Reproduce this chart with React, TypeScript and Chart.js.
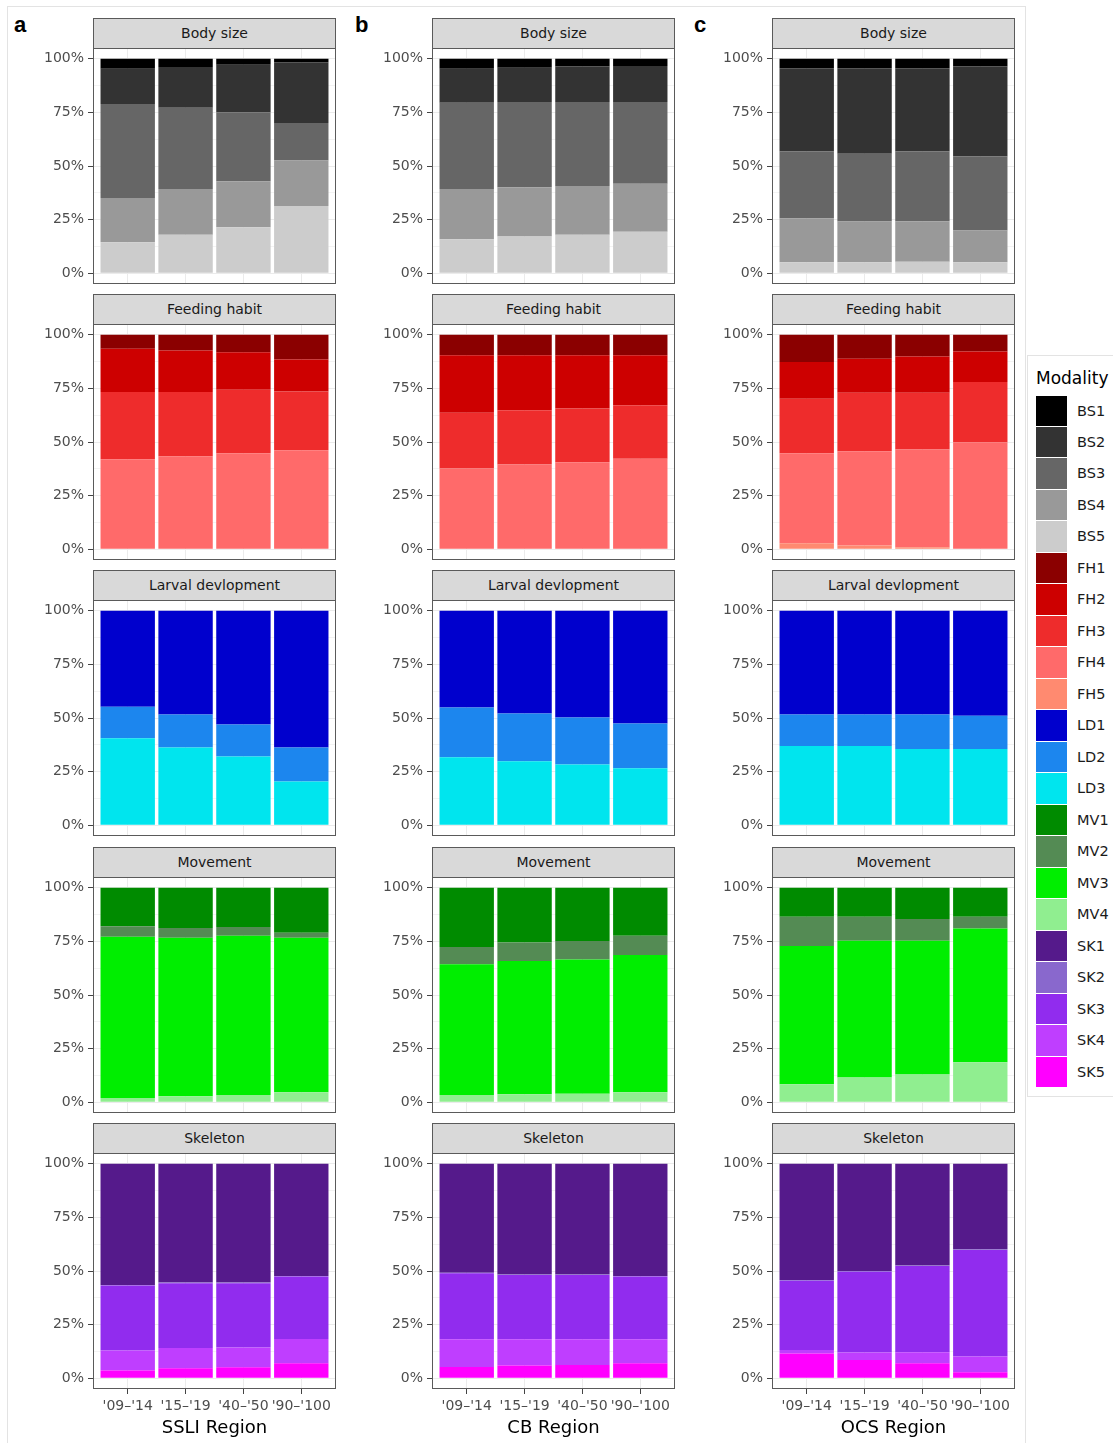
import React, { useEffect, useRef } from "react";
import { Chart, registerables } from "chart.js";

Chart.register(...registerables);

// ---------- categories / labels ----------
const periods = ["'09\u2013'14", "'15\u2013'19", "'40\u2013'50", "'90\u2013'100"];
const regions = ["SSLI Region", "CB Region", "OCS Region"];
const panelLetters = ["a", "b", "c"];
const traits = ["Body size", "Feeding habit", "Larval devlopment", "Movement", "Skeleton"];
const yMajorTicks = [0, 0.25, 0.5, 0.75, 1];
const yMinorTicks = [0.125, 0.375, 0.625, 0.875];

// ---------- modalities & colours ----------
const bodySizeMods = ["BS1", "BS2", "BS3", "BS4", "BS5"];
const bodySizeColors = ["#000000", "#333333", "#666666", "#999999", "#CCCCCC"];
const feedingMods = ["FH1", "FH2", "FH3", "FH4", "FH5"];
const feedingColors = ["#8B0000", "#CD0000", "#EE2C2C", "#FF6A6A", "#FF8A70"];
const larvalMods = ["LD1", "LD2", "LD3"];
const larvalColors = ["#0000CD", "#1C86EE", "#00E5EE"];
const movementMods = ["MV1", "MV2", "MV3", "MV4"];
const movementColors = ["#008B00", "#548B54", "#00EE00", "#90EE90"];
const skeletonMods = ["SK1", "SK2", "SK3", "SK4", "SK5"];
const skeletonColors = ["#551A8B", "#8968CD", "#912CEE", "#BF3EFF", "#FF00FF"];

// ---------- values (rows = modality, columns = period) ----------
const bodySizeSSLI = [
  [0.047, 0.039, 0.028, 0.017],
  [0.164, 0.19, 0.221, 0.283],
  [0.438, 0.378, 0.322, 0.174],
  [0.206, 0.213, 0.214, 0.213],
  [0.145, 0.18, 0.215, 0.313],
];
const bodySizeCB = [
  [0.047, 0.042, 0.036, 0.034],
  [0.158, 0.16, 0.166, 0.168],
  [0.402, 0.397, 0.391, 0.381],
  [0.234, 0.23, 0.227, 0.223],
  [0.159, 0.171, 0.18, 0.194],
];
const bodySizeOCS = [
  [0.044, 0.044, 0.044, 0.036],
  [0.388, 0.399, 0.388, 0.42],
  [0.311, 0.316, 0.325, 0.345],
  [0.206, 0.19, 0.189, 0.148],
  [0.051, 0.051, 0.054, 0.051],
];
const feedingSSLI = [
  [0.065, 0.073, 0.082, 0.115],
  [0.202, 0.194, 0.174, 0.15],
  [0.313, 0.299, 0.297, 0.273],
  [0.418, 0.432, 0.445, 0.46],
  [0.002, 0.002, 0.002, 0.002],
];
const feedingCB = [
  [0.096, 0.096, 0.096, 0.096],
  [0.268, 0.256, 0.248, 0.233],
  [0.259, 0.253, 0.25, 0.249],
  [0.375, 0.393, 0.404, 0.42],
  [0.002, 0.002, 0.002, 0.002],
];
const feedingOCS = [
  [0.127, 0.112, 0.101, 0.078],
  [0.171, 0.159, 0.17, 0.142],
  [0.255, 0.272, 0.264, 0.281],
  [0.419, 0.439, 0.455, 0.496],
  [0.028, 0.018, 0.01, 0.003],
];
const larvalSSLI = [
  [0.447, 0.484, 0.53, 0.638],
  [0.147, 0.154, 0.15, 0.158],
  [0.406, 0.362, 0.32, 0.204],
];
const larvalCB = [
  [0.451, 0.479, 0.498, 0.526],
  [0.232, 0.223, 0.219, 0.208],
  [0.317, 0.298, 0.283, 0.266],
];
const larvalOCS = [
  [0.484, 0.484, 0.484, 0.49],
  [0.147, 0.147, 0.161, 0.155],
  [0.369, 0.369, 0.355, 0.355],
];
const movementSSLI = [
  [0.179, 0.188, 0.183, 0.21],
  [0.049, 0.045, 0.041, 0.023],
  [0.752, 0.739, 0.742, 0.72],
  [0.02, 0.028, 0.034, 0.047],
];
const movementCB = [
  [0.276, 0.255, 0.248, 0.224],
  [0.081, 0.087, 0.086, 0.09],
  [0.609, 0.621, 0.626, 0.639],
  [0.034, 0.037, 0.04, 0.047],
];
const movementOCS = [
  [0.135, 0.135, 0.146, 0.135],
  [0.137, 0.112, 0.101, 0.055],
  [0.644, 0.638, 0.623, 0.624],
  [0.084, 0.115, 0.13, 0.186],
];
const skeletonSSLI = [
  [0.565, 0.554, 0.554, 0.523],
  [0.003, 0.003, 0.003, 0.003],
  [0.303, 0.302, 0.299, 0.291],
  [0.093, 0.094, 0.093, 0.113],
  [0.036, 0.047, 0.051, 0.07],
];
const skeletonCB = [
  [0.508, 0.516, 0.516, 0.523],
  [0.003, 0.003, 0.003, 0.003],
  [0.307, 0.299, 0.299, 0.292],
  [0.129, 0.123, 0.12, 0.112],
  [0.053, 0.059, 0.062, 0.07],
];
const skeletonOCS = [
  [0.542, 0.5, 0.474, 0.399],
  [0.003, 0.003, 0.003, 0.003],
  [0.323, 0.377, 0.402, 0.497],
  [0.016, 0.035, 0.051, 0.073],
  [0.116, 0.085, 0.07, 0.028],
];

// ---------- layout ----------
const FONT = "'DejaVu Sans', 'Liberation Sans', sans-serif";
const COL_LEFT = [93, 432, 772];
const ROW_TOP = [48, 324, 600, 877, 1153];
const PANEL_W = 243;
const PANEL_H = 236;
const STRIP_H = 30;
const Y_AXIS_W = 60;
const PAD = 14;
const X_AXIS_H = 50;

Chart.defaults.font.family = FONT;

type TraitDef = { mods: string[]; colors: string[]; data: number[][][] };
const traitDefs: TraitDef[] = [
  { mods: bodySizeMods, colors: bodySizeColors, data: [bodySizeSSLI, bodySizeCB, bodySizeOCS] },
  { mods: feedingMods, colors: feedingColors, data: [feedingSSLI, feedingCB, feedingOCS] },
  { mods: larvalMods, colors: larvalColors, data: [larvalSSLI, larvalCB, larvalOCS] },
  { mods: movementMods, colors: movementColors, data: [movementSSLI, movementCB, movementOCS] },
  { mods: skeletonMods, colors: skeletonColors, data: [skeletonSSLI, skeletonCB, skeletonOCS] },
];

const isMajor = (v: number) => Math.abs(v * 4 - Math.round(v * 4)) < 1e-6;

const panelBorder = {
  id: "panelBorder",
  afterDraw(chart: any) {
    const { ctx, chartArea } = chart;
    ctx.save();
    ctx.strokeStyle = "#5a5a5a";
    ctx.lineWidth = 1;
    ctx.strokeRect(
      Math.round(chartArea.left) + 0.5,
      Math.round(chartArea.top) + 0.5,
      Math.round(chartArea.right - chartArea.left) - 1,
      Math.round(chartArea.bottom - chartArea.top) - 1
    );
    ctx.restore();
  },
};

function Panel({ row, col }: { row: number; col: number }) {
  const ref = useRef<HTMLCanvasElement>(null);
  const isBottom = row === traits.length - 1;
  const canvasW = Y_AXIS_W + PANEL_W;
  const canvasH = PAD + PANEL_H + (isBottom ? X_AXIS_H : PAD);

  useEffect(() => {
    const def = traitDefs[row];
    const values = def.data[col];
    const totals = periods.map((_, i) => values.reduce((s, r) => s + r[i], 0));
    // ggplot position="fill": first level at top, so stack in reverse order
    const datasets = def.mods
      .map((m, k) => ({
        label: m,
        data: periods.map((_, i) => ({ x: i + 1, y: values[k][i] / totals[i] })),
        backgroundColor: def.colors[k],
        borderWidth: 0,
        barPercentage: 0.94,
        categoryPercentage: 1,
      }))
      .reverse();

    const chart = new Chart(ref.current as HTMLCanvasElement, {
      type: "bar",
      data: { datasets },
      options: {
        animation: false,
        responsive: false,
        maintainAspectRatio: false,
        events: [],
        layout: { padding: { top: PAD, bottom: isBottom ? 0 : PAD, left: 0, right: 0 } },
        plugins: { legend: { display: false }, tooltip: { enabled: false } },
        scales: {
          x: {
            type: "linear",
            min: 0.4,
            max: 4.6,
            stacked: true,
            offset: false,
            afterBuildTicks: (s: any) => {
              s.ticks = periods.map((_, i) => ({ value: i + 1 }));
            },
            afterFit: (s: any) => {
              s.height = isBottom ? X_AXIS_H : 0;
            },
            ticks: {
              display: isBottom,
              autoSkip: false,
              maxRotation: 0,
              padding: 4,
              color: "#4D4D4D",
              font: { size: 14, family: FONT },
              callback: (_v: any, i: number) => periods[i],
            },
            grid: {
              offset: false,
              color: "#EBEBEB",
              lineWidth: 1,
              drawTicks: isBottom,
              tickLength: 5,
              tickColor: "#444444",
            },
            border: { display: false },
            title: {
              display: isBottom,
              text: regions[col],
              color: "#000000",
              font: { size: 18, family: FONT },
              padding: 0,
            },
          },
          y: {
            type: "linear",
            min: -0.05,
            max: 1.05,
            stacked: true,
            afterBuildTicks: (s: any) => {
              s.ticks = [...yMajorTicks, ...yMinorTicks]
                .sort((a, b) => a - b)
                .map((v) => ({ value: v }));
            },
            afterFit: (s: any) => {
              s.width = Y_AXIS_W;
            },
            ticks: {
              autoSkip: false,
              padding: 4,
              color: "#4D4D4D",
              font: { size: 14, family: FONT },
              callback: (v: any) => (isMajor(v) ? `${Math.round(v * 100)}%` : ""),
            },
            grid: {
              color: "#EBEBEB",
              lineWidth: (ctx: any) => (ctx.tick && isMajor(ctx.tick.value) ? 1 : 0.6),
              tickLength: 5,
              tickColor: (ctx: any) => (ctx.tick && isMajor(ctx.tick.value) ? "#444444" : "rgba(0,0,0,0)"),
            },
            border: { display: false },
          },
        },
      } as any,
      plugins: [panelBorder],
    });
    return () => chart.destroy();
  }, [row, col]);

  return (
    <canvas
      ref={ref}
      width={canvasW}
      height={canvasH}
      style={{
        position: "absolute",
        left: COL_LEFT[col] - Y_AXIS_W,
        top: ROW_TOP[row] - PAD,
        width: canvasW,
        height: canvasH,
      }}
    />
  );
}

function Strip({ row, col }: { row: number; col: number }) {
  return (
    <div
      style={{
        position: "absolute",
        left: COL_LEFT[col],
        top: ROW_TOP[row] - STRIP_H,
        width: PANEL_W,
        height: STRIP_H,
        boxSizing: "border-box",
        background: "#D9D9D9",
        border: "1px solid #5a5a5a",
        borderBottom: "none",
        color: "#1A1A1A",
        fontFamily: FONT,
        fontSize: 14,
        lineHeight: `${STRIP_H - 1}px`,
        textAlign: "center",
      }}
    >
      {traits[row]}
    </div>
  );
}

const allMods = traitDefs.flatMap((d) => d.mods);
const allColors = traitDefs.flatMap((d) => d.colors);

function Legend() {
  const LEG_TOP = 355;
  const KEY_TOP = 395.5;
  const KEY_STEP = 31.48;
  return (
    <div
      style={{
        position: "absolute",
        left: 1027,
        top: LEG_TOP,
        width: 110,
        height: 742,
        boxSizing: "border-box",
        border: "1px solid #E3E3E3",
        background: "#fff",
      }}
    >
      <div
        style={{
          position: "absolute",
          left: 8,
          top: 12,
          fontFamily: FONT,
          fontSize: 17,
          color: "#000",
          whiteSpace: "nowrap",
        }}
      >
        Modality
      </div>
      {allMods.map((m, k) => (
        <React.Fragment key={m}>
          <div
            style={{
              position: "absolute",
              left: 8,
              top: KEY_TOP - LEG_TOP - 1 + k * KEY_STEP,
              width: 31,
              height: 30.5,
              background: allColors[k],
            }}
          />
          <div
            style={{
              position: "absolute",
              left: 49,
              top: KEY_TOP - LEG_TOP - 1 + k * KEY_STEP,
              height: 31,
              lineHeight: "31px",
              fontFamily: FONT,
              fontSize: 14.5,
              color: "#1A1A1A",
              whiteSpace: "nowrap",
            }}
          >
            {m}
          </div>
        </React.Fragment>
      ))}
    </div>
  );
}

export default function App() {
  const letterLeft = [14, 355, 694];
  return (
    <div
      style={{
        position: "absolute",
        left: 0,
        top: 0,
        width: 1113,
        height: 1443,
        overflow: "hidden",
        background: "#ffffff",
      }}
    >
      <div
        style={{
          position: "absolute",
          left: 7,
          top: 6,
          width: 1017,
          height: 1460,
          border: "1px solid #E3E3E3",
        }}
      />
      {panelLetters.map((l, c) => (
        <div
          key={l}
          style={{
            position: "absolute",
            left: letterLeft[c],
            top: 14,
            fontFamily: "'Liberation Sans', Arial, sans-serif",
            fontWeight: "bold",
            fontSize: 22,
            lineHeight: "22px",
            color: "#000",
          }}
        >
          {l}
        </div>
      ))}
      {traits.map((_, r) =>
        regions.map((_, c) => (
          <React.Fragment key={`${r}-${c}`}>
            <Strip row={r} col={c} />
            <Panel row={r} col={c} />
          </React.Fragment>
        ))
      )}
      <Legend />
    </div>
  );
}
